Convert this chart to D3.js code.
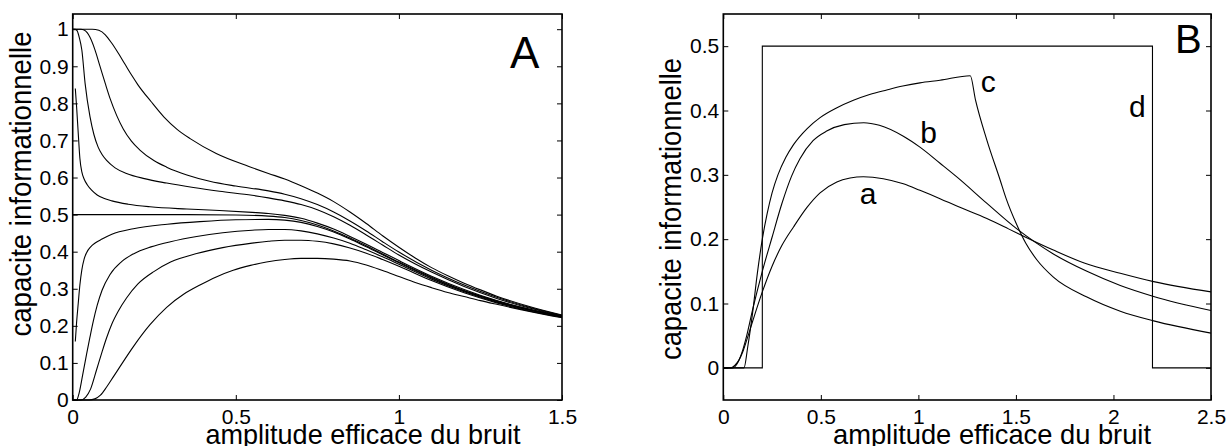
<!DOCTYPE html>
<html>
<head>
<meta charset="utf-8">
<script src="https://cdn.jsdelivr.net/npm/d3@7"></script>
<style>
  html, body { margin: 0; padding: 0; background: #fff; }
  svg { display: block; font-family: "Liberation Sans", Arial, Helvetica, sans-serif; }
</style>
</head>
<body>
<svg id="fig" width="1226" height="446"></svg>
<script>
// ---- Panel A : capacity vs noise amplitude, family of thresholds ----
const ticksAx = [0, 0.5, 1, 1.5];
const ticksAy = [0, 0.1, 0.2, 0.3, 0.4, 0.5, 0.6, 0.7, 0.8, 0.9, 1];

const curveU1 = [[0,1],[0.04,1],[0.06,1],[0.08,0.997],[0.1,0.985],[0.12,0.962],[0.14,0.935],[0.16,0.906],[0.18,0.877],[0.2,0.85],[0.24,0.805],[0.28,0.763],[0.32,0.73],[0.36,0.705],[0.44,0.665],[0.54,0.63],[0.6,0.611],[0.65,0.596],[0.7,0.578],[0.75,0.558],[0.8,0.535],[0.85,0.507],[0.9,0.476],[0.95,0.443],[1.0,0.412],[1.05,0.383],[1.1,0.357],[1.15,0.335],[1.2,0.315],[1.25,0.297],[1.3,0.28],[1.4,0.252],[1.5,0.229]];
const curveU2 = [[0,1],[0.025,1],[0.035,0.998],[0.045,0.99],[0.053,0.978],[0.068,0.945],[0.084,0.899],[0.1,0.853],[0.115,0.812],[0.135,0.767],[0.155,0.731],[0.18,0.698],[0.206,0.674],[0.25,0.645],[0.288,0.628],[0.35,0.607],[0.42,0.59],[0.5,0.577],[0.6,0.564],[0.65,0.555],[0.7,0.543],[0.75,0.527],[0.8,0.507],[0.85,0.483],[0.9,0.456],[0.95,0.427],[1.0,0.399],[1.1,0.35],[1.2,0.31],[1.3,0.277],[1.4,0.25],[1.5,0.228]];
const curveU3 = [[0,1],[0.008,1],[0.014,0.995],[0.02,0.978],[0.028,0.944],[0.038,0.854],[0.053,0.764],[0.065,0.716],[0.078,0.682],[0.09,0.662],[0.104,0.646],[0.13,0.626],[0.165,0.611],[0.22,0.597],[0.288,0.585],[0.37,0.573],[0.45,0.563],[0.55,0.552],[0.6,0.545],[0.65,0.537],[0.7,0.527],[0.75,0.513],[0.8,0.494],[0.85,0.471],[0.9,0.445],[0.95,0.418],[1.0,0.391],[1.1,0.345],[1.2,0.306],[1.3,0.274],[1.4,0.248],[1.5,0.227]];
const curveU4 = [[0.008,0.84],[0.012,0.79],[0.017,0.719],[0.022,0.652],[0.028,0.615],[0.035,0.596],[0.045,0.58],[0.058,0.566],[0.075,0.553],[0.095,0.544],[0.12,0.537],[0.17,0.528],[0.237,0.521],[0.35,0.515],[0.45,0.511],[0.55,0.506],[0.6,0.503],[0.65,0.498],[0.7,0.49],[0.75,0.477],[0.8,0.461],[0.85,0.441],[0.9,0.42],[0.95,0.398],[1.0,0.376],[1.1,0.334],[1.2,0.298],[1.3,0.268],[1.4,0.245],[1.5,0.226]];
const curveMid = [[0,0.5],[0.2,0.5],[0.35,0.5],[0.5,0.499],[0.6,0.496],[0.65,0.492],[0.7,0.484],[0.75,0.472],[0.8,0.456],[0.85,0.437],[0.9,0.416],[0.95,0.394],[1.0,0.372],[1.1,0.331],[1.2,0.295],[1.3,0.267],[1.4,0.244],[1.5,0.225]];
const curveL4 = [[0.008,0.158],[0.012,0.21],[0.017,0.261],[0.022,0.31],[0.028,0.351],[0.035,0.38],[0.043,0.398],[0.055,0.413],[0.07,0.424],[0.09,0.434],[0.12,0.447],[0.186,0.462],[0.29,0.474],[0.39,0.481],[0.5,0.486],[0.6,0.487],[0.65,0.485],[0.7,0.479],[0.75,0.468],[0.8,0.453],[0.85,0.434],[0.9,0.413],[0.95,0.392],[1.0,0.37],[1.1,0.329],[1.2,0.294],[1.3,0.266],[1.4,0.243],[1.5,0.225]];
const curveL3 = [[0,0],[0.012,0],[0.02,0.02],[0.03,0.065],[0.043,0.126],[0.053,0.17],[0.063,0.212],[0.075,0.255],[0.09,0.296],[0.114,0.338],[0.15,0.373],[0.186,0.394],[0.24,0.413],[0.3,0.427],[0.38,0.441],[0.46,0.451],[0.55,0.458],[0.6,0.46],[0.65,0.46],[0.7,0.456],[0.75,0.448],[0.8,0.437],[0.85,0.423],[0.9,0.405],[0.95,0.386],[1.0,0.366],[1.1,0.326],[1.2,0.292],[1.3,0.264],[1.4,0.242],[1.5,0.224]];
const curveL2 = [[0,0],[0.025,0],[0.04,0.008],[0.055,0.03],[0.073,0.081],[0.09,0.13],[0.104,0.168],[0.12,0.205],[0.14,0.24],[0.165,0.275],[0.2,0.313],[0.25,0.347],[0.3,0.372],[0.38,0.395],[0.46,0.411],[0.55,0.423],[0.6,0.428],[0.65,0.431],[0.7,0.431],[0.75,0.428],[0.8,0.421],[0.85,0.41],[0.9,0.396],[0.95,0.379],[1.0,0.361],[1.1,0.322],[1.2,0.289],[1.3,0.262],[1.4,0.24],[1.5,0.223]];
const curveL1 = [[0,0],[0.05,0],[0.068,0.003],[0.085,0.013],[0.104,0.035],[0.125,0.063],[0.145,0.09],[0.186,0.144],[0.237,0.203],[0.288,0.25],[0.34,0.285],[0.39,0.31],[0.44,0.332],[0.492,0.35],[0.545,0.363],[0.594,0.372],[0.65,0.379],[0.7,0.382],[0.75,0.382],[0.8,0.38],[0.85,0.375],[0.9,0.364],[0.95,0.349],[1.0,0.333],[1.05,0.317],[1.1,0.303],[1.15,0.29],[1.2,0.279],[1.25,0.268],[1.3,0.258],[1.4,0.239],[1.5,0.222]];
const seriesA = [curveU1, curveU2, curveU3, curveU4, curveMid, curveL4, curveL3, curveL2, curveL1];

// ---- Panel B : four coding schemes a, b, c, d ----
const ticksBx = [0, 0.5, 1, 1.5, 2, 2.5];
const ticksBy = [0, 0.1, 0.2, 0.3, 0.4, 0.5];

const curveA = [[0,0],[0.04,0],[0.06,0.004],[0.08,0.012],[0.1,0.025],[0.12,0.043],[0.15,0.072],[0.2,0.118],[0.25,0.158],[0.3,0.19],[0.36,0.219],[0.428,0.249],[0.496,0.272],[0.582,0.289],[0.65,0.295],[0.718,0.297],[0.82,0.294],[0.923,0.286],[1.008,0.276],[1.111,0.263],[1.2,0.251],[1.351,0.232],[1.462,0.216],[1.55,0.203],[1.692,0.183],[1.85,0.163],[2.035,0.147],[2.206,0.134],[2.5,0.118]];
const curveB = [[0,0],[0.05,0],[0.07,0.006],[0.1,0.028],[0.12,0.05],[0.15,0.09],[0.2,0.15],[0.25,0.203],[0.3,0.255],[0.35,0.298],[0.393,0.325],[0.46,0.353],[0.53,0.368],[0.62,0.378],[0.72,0.381],[0.8,0.377],[0.923,0.36],[1.008,0.343],[1.111,0.318],[1.2,0.296],[1.35,0.256],[1.505,0.216],[1.6,0.195],[1.692,0.177],[1.864,0.15],[2.035,0.128],[2.206,0.111],[2.5,0.089]];
const curveC = [[0,0],[0.106,0],[0.125,0.032],[0.15,0.085],[0.175,0.148],[0.2,0.2],[0.225,0.24],[0.25,0.272],[0.28,0.3],[0.32,0.327],[0.36,0.347],[0.43,0.372],[0.496,0.389],[0.58,0.404],[0.667,0.416],[0.75,0.425],[0.838,0.432],[0.92,0.438],[1.008,0.443],[1.111,0.447],[1.266,0.454],[1.293,0.416],[1.351,0.354],[1.419,0.292],[1.45,0.263],[1.505,0.222],[1.55,0.194],[1.607,0.168],[1.692,0.141],[1.864,0.11],[2.035,0.088],[2.206,0.073],[2.5,0.054]];
const curveD = [[0,0],[0.2,0],[0.2,0.5],[2.2,0.5],[2.2,0],[2.5,0]];
const labelsB = [
  {text: "a", amp: 0.70, cap: 0.255},
  {text: "b", amp: 1.01, cap: 0.350},
  {text: "c", amp: 1.32, cap: 0.429},
  {text: "d", amp: 2.08, cap: 0.390}
];

const svg = d3.select("#fig");
const fmt = d => (d === 0 ? "0" : String(d));
const FONT = "'Liberation Sans', Arial, Helvetica, sans-serif";

function drawPanel(xs, ys, xTicks, yTicks, series, smoothFlags) {
  const g = svg.append("g");
  const [x0, x1] = xs.range();
  const [y0, y1] = ys.range();

  const bottom = d3.axisBottom(xs).tickValues(xTicks).tickFormat(fmt).tickSize(-5).tickPadding(9);
  const top = d3.axisTop(xs).tickValues(xTicks).tickFormat("").tickSize(-5);
  const left = d3.axisLeft(ys).tickValues(yTicks).tickFormat(fmt).tickSize(-5).tickPadding(4);
  const right = d3.axisRight(ys).tickValues(yTicks).tickFormat("").tickSize(-5);

  const styleAxis = sel => {
    sel.select(".domain").remove();
    sel.selectAll(".tick line").attr("stroke", "#000").attr("stroke-width", 1);
    sel.selectAll(".tick text").attr("fill", "#000").style("font-size", "21px").style("font-family", FONT);
  };
  g.append("g").attr("transform", `translate(0,${y0})`).call(bottom).call(styleAxis);
  g.append("g").attr("transform", `translate(0,${y1})`).call(top).call(styleAxis);
  g.append("g").attr("transform", `translate(${x0},0)`).call(left).call(styleAxis);
  g.append("g").attr("transform", `translate(${x1},0)`).call(right).call(styleAxis);

  series.forEach((pts, i) => {
    const line = d3.line()
      .x(d => xs(d[0])).y(d => ys(d[1]))
      .curve(smoothFlags[i] ? d3.curveMonotoneX : d3.curveLinear);
    g.append("path").datum(pts)
      .attr("d", line).attr("fill", "none")
      .attr("stroke", "#000").attr("stroke-width", 1.1);
  });

  g.append("rect")
    .attr("x", x0).attr("y", y1)
    .attr("width", x1 - x0).attr("height", y0 - y1)
    .attr("fill", "none").attr("stroke", "#000").attr("stroke-width", 1.6);
  return g;
}

// Panel A scales
const xA = d3.scaleLinear().domain([0, 1.5]).range([72.7, 562]);
const yA = d3.scaleLinear().domain([0, 1.041]).range([400, 14]);
const gA = drawPanel(xA, yA, ticksAx, ticksAy, seriesA, seriesA.map(() => true));

// Panel B scales
const xB = d3.scaleLinear().domain([0, 2.5]).range([723.3, 1211]);
const yB = d3.scaleLinear().domain([-0.05, 0.55]).range([400, 14]);
const gB = drawPanel(xB, yB, ticksBx, ticksBy, [curveA, curveB, curveC, curveD], [true, true, true, false]);

// curve letters
gB.selectAll("text.lbl").data(labelsB).join("text")
  .attr("class", "lbl")
  .attr("x", d => xB(d.amp)).attr("y", d => yB(d.cap))
  .attr("font-size", 30).attr("fill", "#000")
  .text(d => d.text);

// panel letters
gA.append("text").attr("x", 510).attr("y", 68).attr("font-size", 44).text("A");
gB.append("text").attr("x", 1175).attr("y", 53).attr("font-size", 40).text("B");

// axis titles (slightly condensed lettering)
const xTitle = "amplitude efficace du bruit";
const yTitle = "capacite informationnelle";
const title = (g, transform, len, size) => g.append("text")
  .attr("transform", transform).attr("text-anchor", "middle")
  .attr("font-size", size).attr("textLength", len).attr("lengthAdjust", "spacingAndGlyphs");
title(gA, "translate(363,444)", 315, 28).text(xTitle);
title(gB, "translate(992,444)", 318, 28).text(xTitle);
title(gA, "translate(31,184) rotate(-90)", 305, 30).text(yTitle);
title(gB, "translate(681,209) rotate(-90)", 302, 30).text(yTitle);
</script>
</body>
</html>
